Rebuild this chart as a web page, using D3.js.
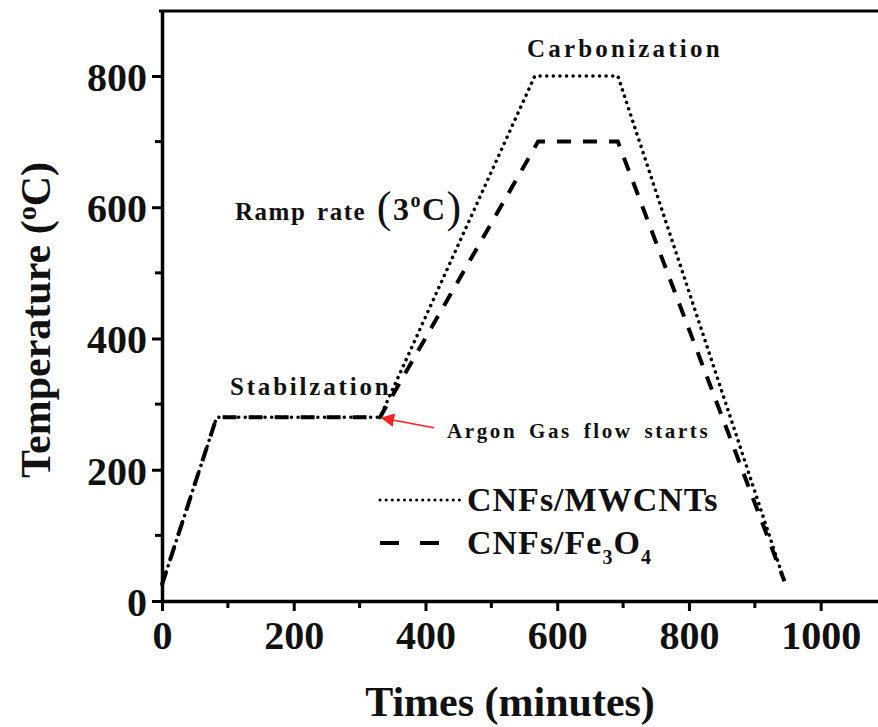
<!DOCTYPE html>
<html>
<head>
<meta charset="utf-8">
<script src="https://cdn.jsdelivr.net/npm/d3@7"></script>
<style>
body { margin: 0; background: #fff; }
svg text { font-family: "Liberation Serif", "Times New Roman", serif; font-weight: bold; fill: #111; }
</style>
</head>
<body>
<div id="chart"></div>
<script>
// Heating profile (time in minutes, temperature in °C)
const mwcntTime = [0, 83, 331, 566, 692, 945];
const mwcntTemp = [25, 280, 280, 800, 800, 30];
const fe3o4Time = [0, 83, 331, 571, 692, 945];
const fe3o4Temp = [25, 280, 280, 700, 700, 30];

const xTicks = [0, 200, 400, 600, 800, 1000];
const yTicks = [0, 200, 400, 600, 800];

const width = 878;
const height = 727;
const margin = { top: 11, right: 0, bottom: 126, left: 162 };

const svg = d3
	.select("#chart")
	.append("svg")
	.attr("width", width)
	.attr("height", height);

const x = d3.scaleLinear().domain([0, 1087]).range([margin.left, width - margin.right]);
const y = d3.scaleLinear().domain([0, 899]).range([height - margin.bottom, margin.top]);

// Frame top line
svg.append("line")
	.attr("x1", margin.left - 3).attr("x2", width)
	.attr("y1", y(899)).attr("y2", y(899))
	.attr("stroke", "#000").attr("stroke-width", 3);

// Axes
const xAxis = svg.append("g")
	.attr("transform", `translate(0,${y(0)})`)
	.call(d3.axisBottom(x).tickValues(xTicks).tickFormat(d3.format("d")).tickSize(10).tickSizeOuter(0).tickPadding(8));
const yAxis = svg.append("g")
	.attr("transform", `translate(${x(0)},0)`)
	.call(d3.axisLeft(y).tickValues(yTicks).tickSize(10).tickSizeOuter(0).tickPadding(5));

[xAxis, yAxis].forEach((g) => {
	g.select(".domain").attr("stroke", "#000").attr("stroke-width", 3.5);
	g.selectAll(".tick line").attr("stroke", "#000").attr("stroke-width", 3);
	g.selectAll(".tick text")
		.attr("font-family", "Liberation Serif")
		.attr("font-weight", "bold")
		.style("font-size", "40px")
		.attr("fill", "#111");
});
yAxis.selectAll(".tick text").attr("dy", "0.36em");
xAxis.selectAll(".tick text").attr("dy", "0.75em");

// Minor ticks
const xMinor = d3.range(100, 1087, 200);
const yMinor = d3.range(100, 899, 200);
svg.append("g").selectAll("line").data(xMinor).join("line")
	.attr("x1", (d) => x(d)).attr("x2", (d) => x(d))
	.attr("y1", y(0)).attr("y2", y(0) + 7)
	.attr("stroke", "#000").attr("stroke-width", 3);
svg.append("g").selectAll("line").data(yMinor).join("line")
	.attr("x1", x(0) - 7).attr("x2", x(0))
	.attr("y1", (d) => y(d)).attr("y2", (d) => y(d))
	.attr("stroke", "#000").attr("stroke-width", 3);

// Axis titles
svg.append("text")
	.attr("x", 510).attr("y", 716)
	.attr("text-anchor", "middle")
	.style("font-size", "42px")
	.text("Times (minutes)");

const yTitle = svg.append("text")
	.attr("transform", "translate(50,320) rotate(-90)")
	.attr("text-anchor", "middle")
	.style("font-size", "42px");
yTitle.append("tspan").text("Temperature (");
yTitle.append("tspan").attr("dy", -14).style("font-size", "28px").text("o");
yTitle.append("tspan").attr("dy", 14).text("C)");

// Lines
const line = d3.line().x((d) => x(d[0])).y((d) => y(d[1]));
const mwcnt = mwcntTime.map((t, i) => [t, mwcntTemp[i]]);
const fe3o4 = fe3o4Time.map((t, i) => [t, fe3o4Temp[i]]);

svg.append("path")
	.datum(fe3o4)
	.attr("d", line)
	.attr("fill", "none")
	.attr("stroke", "#000")
	.attr("stroke-width", 4)
	.attr("stroke-dasharray", "14,12");

svg.append("path")
	.datum(mwcnt)
	.attr("d", line)
	.attr("fill", "none")
	.attr("stroke", "#000")
	.attr("stroke-width", 3.5)
	.attr("stroke-linecap", "round")
	.attr("stroke-dasharray", "0.1,6.5");

// Annotations
svg.append("text").attr("x", 527).attr("y", 57).style("font-size", "25px").attr("letter-spacing", 3.2).text("Carbonization");

const ramp = svg.append("text").attr("x", 235).attr("y", 220).style("font-size", "25px").attr("letter-spacing", 1.5);
ramp.append("tspan").attr("word-spacing", 3).text("Ramp rate ");
ramp.append("tspan").style("font-size", "44px").attr("font-weight", "normal").attr("dy", 2).text("(");
ramp.append("tspan").style("font-size", "32px").attr("dy", -2).text("3");
ramp.append("tspan").attr("dy", -13).style("font-size", "20px").text("o");
ramp.append("tspan").attr("dy", 13).style("font-size", "32px").text("C");
ramp.append("tspan").style("font-size", "44px").attr("font-weight", "normal").attr("dy", 2).text(")");

svg.append("text").attr("x", 230).attr("y", 395).style("font-size", "25px").attr("letter-spacing", 2.8).text("Stabilzation");

svg.append("text").attr("x", 447).attr("y", 438).style("font-size", "21px").attr("letter-spacing", 2.6).attr("word-spacing", 4).text("Argon Gas flow starts");

// Red arrow
svg.append("defs").append("marker")
	.attr("id", "arrow")
	.attr("viewBox", "0 0 10 10")
	.attr("refX", 9).attr("refY", 5)
	.attr("markerWidth", 9).attr("markerHeight", 9)
	.attr("orient", "auto")
	.append("path").attr("d", "M0,0L10,5L0,10z").attr("fill", "#f22");
svg.append("line")
	.attr("x1", x(413)).attr("y1", y(264))
	.attr("x2", x(334)).attr("y2", y(279))
	.attr("stroke", "#f22").attr("stroke-width", 1.5)
	.attr("marker-end", "url(#arrow)");

// Legend
const legend = svg.append("g").attr("transform", "translate(380,500)");
legend.append("line")
	.attr("x1", 0).attr("x2", 80).attr("y1", 0).attr("y2", 0)
	.attr("stroke", "#000").attr("stroke-width", 3)
	.attr("stroke-linecap", "round")
	.attr("stroke-dasharray", "0.1,6");
legend.append("text").attr("x", 87).attr("y", 11).style("font-size", "34px").attr("letter-spacing", 1).text("CNFs/MWCNTs");
legend.append("line")
	.attr("x1", 0).attr("x2", 60).attr("y1", 43).attr("y2", 43)
	.attr("stroke", "#000").attr("stroke-width", 4)
	.attr("stroke-dasharray", "19,21");
const feText = legend.append("text").attr("x", 87).attr("y", 54).style("font-size", "34px").attr("letter-spacing", 1);
feText.append("tspan").text("CNFs/Fe");
feText.append("tspan").attr("dy", 10).style("font-size", "20px").text("3");
feText.append("tspan").attr("dy", -10).text("O");
feText.append("tspan").attr("dy", 10).style("font-size", "20px").text("4");
</script>
</body>
</html>
